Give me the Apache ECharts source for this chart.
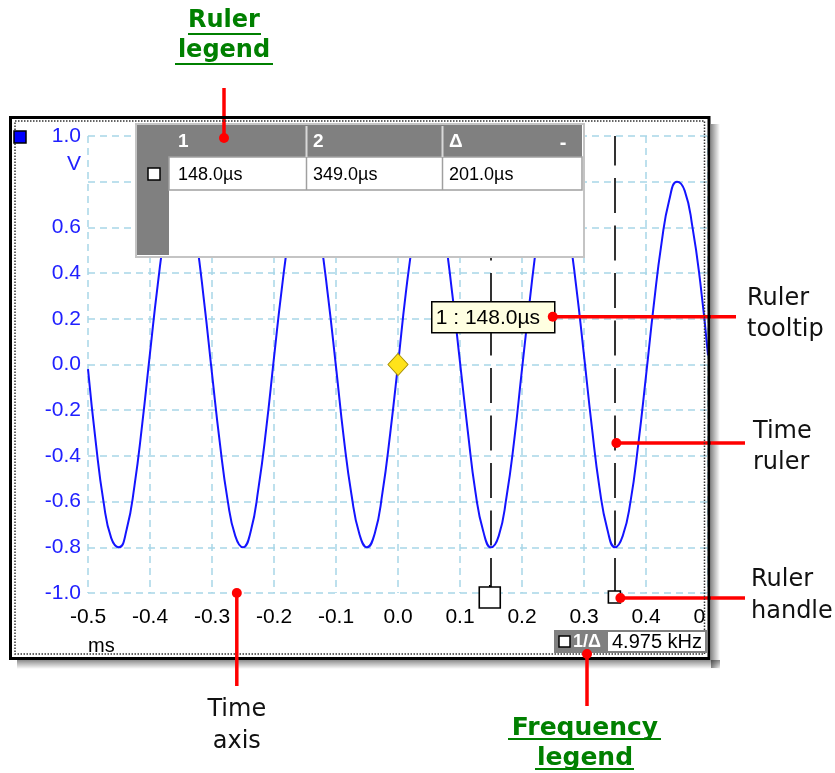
<!DOCTYPE html>
<html><head><meta charset="utf-8">
<script src="https://cdn.jsdelivr.net/npm/echarts@6/dist/echarts.min.js"></script>
<style>html,body{margin:0;padding:0;background:#fff}#c{width:835px;height:773px}</style>
</head><body><div id="c"></div>
<script>
// ---- data ----
const sampleTimes = [-0.5, -0.4875, -0.475, -0.4625, -0.45, -0.4375, -0.425, -0.4125, -0.4, -0.3875, -0.375, -0.3625, -0.35, -0.3375, -0.325, -0.3125, -0.3, -0.2875, -0.275, -0.2625, -0.25, -0.2375, -0.225, -0.2125, -0.2, -0.1875, -0.175, -0.1625, -0.15, -0.1375, -0.125, -0.1125, -0.1, -0.0875, -0.075, -0.0625, -0.05, -0.0375, -0.025, -0.0125, 0, 0.0125, 0.025, 0.0375, 0.05, 0.0625, 0.075, 0.0875, 0.1, 0.1125, 0.125, 0.1375, 0.15, 0.1625, 0.175, 0.1875, 0.2, 0.2125, 0.225, 0.2375, 0.25, 0.2625, 0.275, 0.2875, 0.3, 0.3125, 0.325, 0.3375, 0.35, 0.3625, 0.375, 0.3875, 0.4, 0.4125, 0.425, 0.4375, 0.45, 0.4625, 0.475, 0.4875, 0.5];
const sampleVolts = [-0.02, -0.34, -0.60, -0.76, -0.80, -0.72, -0.53, -0.26,
  0.05, 0.35, 0.60, 0.76, 0.80, 0.72, 0.54, 0.27,
  -0.04, -0.34, -0.59, -0.75, -0.80, -0.73, -0.54, -0.28,
  0.03, 0.33, 0.58, 0.75, 0.80, 0.73, 0.55, 0.29,
  -0.01, -0.32, -0.57, -0.74, -0.80, -0.74, -0.56, -0.30,
  0.00, 0.31, 0.56, 0.74, 0.80, 0.74, 0.57, 0.31,
  0.01, -0.29, -0.56, -0.73, -0.80, -0.75, -0.58, -0.33,
  -0.02, 0.28, 0.55, 0.73, 0.80, 0.75, 0.59, 0.34,
  0.04, -0.27, -0.54, -0.72, -0.80, -0.75, -0.60, -0.35,
  -0.05, 0.26, 0.53, 0.72, 0.80, 0.76, 0.60, 0.36,
  0.04];
const hiddenVoltLabels = [0.8];
const rulerTimes = [0.148, 0.349];
const rulerHeaders = ['1', '2', 'Δ'];
const rulerReadouts = ['148.0µs', '349.0µs', '201.0µs'];
const tooltipText = '1 : 148.0µs';
const tooltipVolt = 0.2;
const frequencyLabel = '1/Δ';
const frequencyReadout = '4.975 kHz';
const triggerPoint = [0.0, 0.0];
const timeUnit = 'ms';
const voltUnit = 'V';

// ---- chart ----
const chart = echarts.init(document.getElementById('c'), null, {renderer: 'canvas'});
const AX = '"Liberation Sans", Arial, sans-serif';
const ANN = '"DejaVu Sans", Verdana, sans-serif';
const gridLine = {show: true, lineStyle: {color: '#a8d6e8', type: [7, 5], width: 1.5}};
const fmt = v => (Math.abs(v) < 1e-9 ? 0 : v).toFixed(1);

chart.setOption({
  animation: false,
  backgroundColor: '#fff',
  grid: {left: 88, right: 127, top: 136, bottom: 180},
  xAxis: {
    type: 'value', min: -0.5, max: 0.5, interval: 0.1,
    axisLine: {show: false}, axisTick: {show: false}, splitLine: gridLine,
    axisLabel: {color: '#000', fontFamily: AX, fontSize: 21, margin: 14, formatter: fmt, showMinLabel: true, showMaxLabel: true, hideOverlap: false}
  },
  yAxis: {
    type: 'value', min: -1, max: 1, interval: 0.2,
    axisLine: {show: false}, axisTick: {show: false}, splitLine: gridLine,
    axisLabel: {color: '#2020ff', fontFamily: AX, fontSize: 21, margin: 7,
      formatter: v => hiddenVoltLabels.some(h => Math.abs(h - v) < 1e-6) ? '' : fmt(v)}
  },
  series: [
    {
      type: 'line', data: sampleTimes.map((t, i) => [t, sampleVolts[i]]),
      smooth: true, symbol: 'none', lineStyle: {color: '#1414ff', width: 2}, z: 3,
      markLine: {
        silent: true, symbol: 'none', label: {show: false}, animation: false,
        lineStyle: {color: '#000', width: 1.6, type: [35, 12.5]},
        data: rulerTimes.map(t => ({xAxis: t}))
      }
    },
    {
      type: 'scatter', data: [triggerPoint], symbol: 'diamond', symbolSize: [20, 22],
      itemStyle: {color: '#ffe31a', borderColor: '#a88f00', borderWidth: 1, opacity: 1}, z: 4
    }
  ]
});

const P = (t, v) => chart.convertToPixel({gridIndex: 0}, [t, v]);
const g = [];
const Z = 100;
function rect(x, y, w, h, style, z) { g.push({type: 'rect', shape: {x, y, width: w, height: h}, style, z: z || Z, silent: true}); }
function line(x1, y1, x2, y2, style, z) { g.push({type: 'line', shape: {x1, y1, x2, y2}, style, z: z || Z, silent: true}); }
function text(x, y, s, font, fill, align, z) {
  g.push({type: 'text', style: {text: s, x, y, font, fill, textAlign: align || 'left', textVerticalAlign: 'middle'}, z: z || Z + 5, silent: true});
}
function dot(x, y, z) { g.push({type: 'circle', shape: {cx: x, cy: y, r: 5}, style: {fill: '#ff0000'}, z: z || Z + 20, silent: true}); }
const red = {stroke: '#ff0000', lineWidth: 3.5};

// clip the right-hand tick label at the window edge
rect(706, 603, 22, 32, {fill: '#fff'}, Z - 10);
// window shadow + frame
rect(711, 124, 9, 544, {fill: new echarts.graphic.LinearGradient(0, 0, 1, 0, [{offset: 0, color: 'rgba(0,0,0,0.45)'}, {offset: 1, color: 'rgba(0,0,0,0)'}])}, Z - 5);
rect(17, 660, 703, 9, {fill: new echarts.graphic.LinearGradient(0, 0, 0, 1, [{offset: 0, color: 'rgba(0,0,0,0.45)'}, {offset: 1, color: 'rgba(0,0,0,0)'}])}, Z - 5);
rect(10.5, 117.5, 698.5, 541, {fill: 'none', stroke: '#000', lineWidth: 3}, Z + 30);
rect(15, 121, 689.5, 533, {fill: 'none', stroke: '#333', lineWidth: 1.5, lineDash: [1.5, 1.5]}, Z + 30);
rect(14, 131, 12, 12, {fill: '#0000ff', stroke: '#000', lineWidth: 1.5}, Z + 31);

// axis units
text(81, 164, voltUnit, '21px ' + AX, '#2020ff', 'right');
text(88, 646, timeUnit, '20px ' + AX, '#000', 'left');

// ruler legend table
rect(136, 124, 448, 133, {fill: '#fff', stroke: '#c4c4c4', lineWidth: 2});
rect(137, 125, 445, 32, {fill: '#808080'});
rect(137, 125, 32, 130, {fill: '#808080'});
rect(169, 157, 413, 33, {fill: '#fff', stroke: '#a0a0a0', lineWidth: 1.5});
[306.5, 442.5].forEach(x => {
  line(x, 126, x, 157, {stroke: '#d8d8d8', lineWidth: 2});
  line(x, 157, x, 190, {stroke: '#a0a0a0', lineWidth: 1.5});
});
rect(148, 168, 12, 12, {fill: '#fff', stroke: '#000', lineWidth: 1.5}, Z + 2);
const colX = [178, 313, 449];
rulerHeaders.forEach((h, i) => text(colX[i], 142, h, 'bold 19px ' + AX, '#fff'));
text(563, 143, '-', 'bold 20px ' + AX, '#fff', 'center');
rulerReadouts.forEach((r, i) => text(colX[i], 175, r, '18px ' + AX, '#000'));

// ruler tooltip
const tp = P(rulerTimes[0], tooltipVolt);
rect(tp[0] - 58, tp[1] - 17, 123, 31, {fill: '#ffffe1', stroke: '#000', lineWidth: 1.5}, Z);
text(tp[0] - 54, tp[1] - 1, tooltipText, '21px ' + AX, '#000', 'left');

// ruler handles
const h1 = P(rulerTimes[0], -1), h2 = P(rulerTimes[1], -1);
line(h1[0], h1[1] - 8, h1[0], h1[1], {stroke: '#000', lineWidth: 1.6}, Z - 20);
rect(h1[0] - 10.5, h1[1] - 6, 21, 21, {fill: '#fff', stroke: '#000', lineWidth: 1.6}, Z);
rect(h2[0] - 6, h2[1] - 2, 12, 12, {fill: '#fff', stroke: '#000', lineWidth: 1.6}, Z);

// frequency legend
rect(554, 630, 153, 23, {fill: '#808080'}, Z + 32);
rect(608, 632, 97, 19, {fill: '#fff'}, Z + 33);
rect(559, 636, 11, 11, {fill: '#fff', stroke: '#000', lineWidth: 1.5}, Z + 33);
text(573, 642, frequencyLabel, 'bold 18px ' + AX, '#fff', 'left', Z + 34);
text(612, 642, frequencyReadout, '20px ' + AX, '#000', 'left', Z + 34);

// annotations
const annFont = '24px ' + ANN, annBold = 'bold 24px ' + ANN, annBoldL = 'bold 25px ' + ANN, green = '#008000';
// Ruler legend
line(224, 88, 224, 138, red, Z + 19); dot(224, 138);
text(224, 21, 'Ruler', annBold, green, 'center');
text(224, 51, 'legend', annBold, green, 'center');
line(188, 34, 261, 34, {stroke: green, lineWidth: 2});
line(175, 64, 273, 64, {stroke: green, lineWidth: 2});
// Ruler tooltip
line(tp[0] + 63, tp[1] - 2, 736, tp[1] - 2, red, Z + 19); dot(tp[0] + 63, tp[1] - 2);
text(747, 299, 'Ruler', annFont, '#111');
text(747, 330, 'tooltip', annFont, '#111');
// Time ruler
line(h2[0] + 2, 443, 745, 443, red, Z + 19); dot(h2[0] + 2, 443);
text(753, 432, 'Time', annFont, '#111');
text(753, 463, 'ruler', annFont, '#111');
// Ruler handle
line(h2[0] + 6, h2[1] + 5, 745, h2[1] + 5, red, Z + 19); dot(h2[0] + 6, h2[1] + 5);
text(751, 580, 'Ruler', annFont, '#111');
text(751, 612, 'handle', annFont, '#111');
// Time axis
const ta = P(-0.26, -1);
line(ta[0], ta[1], ta[0], 686, red, Z + 40); dot(ta[0], ta[1], Z + 41);
text(ta[0], 710, 'Time', annFont, '#111', 'center');
text(ta[0], 742, 'axis', annFont, '#111', 'center');
// Frequency legend
line(587, 654, 587, 706, red, Z + 40); dot(587, 654, Z + 41);
text(585, 728, 'Frequency', annBoldL, green, 'center');
text(585, 758, 'legend', annBoldL, green, 'center');
line(508, 739, 661, 739, {stroke: green, lineWidth: 2});
line(535, 769, 634, 769, {stroke: green, lineWidth: 2});

chart.setOption({graphic: {elements: g}});
</script></body></html>
